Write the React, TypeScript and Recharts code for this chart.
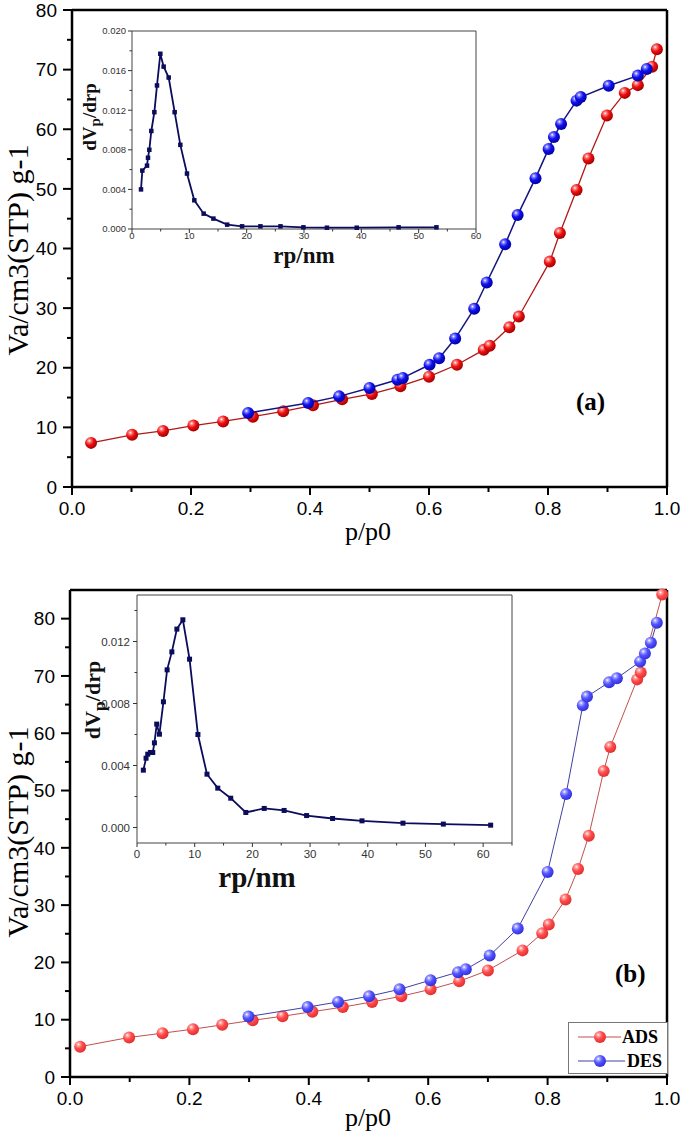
import React from "react"
import { ScatterChart, Scatter, XAxis, YAxis, ReferenceLine, Label, Legend } from "recharts"

// panel (a): isotherm
const pA_ads = [0.032, 0.101, 0.153, 0.204, 0.254, 0.304, 0.355, 0.405, 0.454, 0.504, 0.552, 0.6, 0.647, 0.692, 0.702, 0.735, 0.751, 0.803, 0.82, 0.848, 0.868, 0.899, 0.929, 0.951, 0.975, 0.983]
const vA_ads = [7.4, 8.75, 9.4, 10.3, 11.0, 11.8, 12.7, 13.7, 14.7, 15.6, 16.9, 18.5, 20.5, 23.0, 23.7, 26.8, 28.6, 37.8, 42.6, 49.8, 55.1, 62.3, 66.1, 67.4, 70.5, 73.4]
const pA_des = [0.296, 0.397, 0.449, 0.5, 0.547, 0.556, 0.601, 0.617, 0.644, 0.676, 0.697, 0.728, 0.749, 0.779, 0.801, 0.81, 0.822, 0.848, 0.855, 0.902, 0.951, 0.966]
const vA_des = [12.4, 14.1, 15.2, 16.6, 18.0, 18.3, 20.5, 21.6, 24.9, 29.9, 34.3, 40.7, 45.6, 51.8, 56.7, 58.7, 60.9, 64.8, 65.4, 67.3, 69.0, 70.1]

// panel (a): pore size distribution inset
const rA = [1.57, 1.8, 2.62, 2.79, 3.02, 3.37, 3.9, 4.36, 4.94, 5.52, 6.4, 7.44, 8.43, 9.59, 10.87, 12.5, 14.2, 16.6, 19.2, 22.4, 25.9, 29.9, 34.0, 39.2, 46.5, 53.1]
const dA = [0.004, 0.0059, 0.0064, 0.0072, 0.008, 0.0099, 0.0118, 0.0145, 0.0177, 0.0164, 0.0153, 0.0118, 0.0085, 0.0056, 0.0029, 0.00155, 0.00105, 0.00044, 0.00027, 0.00027, 0.00027, 0.00017, 0.00013, 0.00013, 0.00017, 0.00017]

// panel (b): isotherm
const pB_ads = [0.017, 0.099, 0.155, 0.206, 0.255, 0.306, 0.356, 0.406, 0.457, 0.506, 0.555, 0.604, 0.652, 0.7, 0.758, 0.791, 0.802, 0.83, 0.851, 0.869, 0.894, 0.905, 0.95, 0.956, 0.992]
const vB_ads = [5.3, 6.9, 7.65, 8.35, 9.1, 9.9, 10.6, 11.4, 12.2, 13.1, 14.1, 15.3, 16.7, 18.6, 22.1, 25.1, 26.6, 31.0, 36.3, 42.1, 53.4, 57.6, 69.4, 70.6, 84.2]
const pB_des = [0.299, 0.398, 0.449, 0.501, 0.552, 0.604, 0.65, 0.663, 0.703, 0.75, 0.8, 0.831, 0.859, 0.866, 0.903, 0.916, 0.955, 0.963, 0.973, 0.983]
const vB_des = [10.55, 12.2, 13.1, 14.1, 15.3, 16.9, 18.3, 18.8, 21.2, 25.9, 35.8, 49.4, 64.9, 66.4, 68.9, 69.6, 72.5, 73.9, 75.8, 79.3]

// panel (b): pore size distribution inset
const rB = [1.1, 1.57, 1.86, 2.32, 2.73, 3.02, 3.42, 3.89, 4.58, 5.22, 6.04, 6.91, 7.95, 9.11, 10.56, 12.13, 14.0, 16.25, 18.86, 22.05, 25.5, 29.4, 33.9, 39.0, 46.1, 53.1, 61.3]
const dB = [0.0037, 0.00447, 0.00473, 0.00484, 0.00484, 0.00546, 0.00667, 0.00602, 0.00811, 0.01017, 0.01133, 0.0128, 0.0134, 0.01086, 0.006, 0.00344, 0.00254, 0.00189, 0.00097, 0.00123, 0.0011, 0.00077, 0.00058, 0.00043, 0.00028, 0.00022, 0.00015]

const seriesNames = ["ADS", "DES"]

// ticks
const xMajorMain = [0, 0.2, 0.4, 0.6, 0.8, 1.0]
const xLabelsMain = ["0.0", "0.2", "0.4", "0.6", "0.8", "1.0"]
const xTicksMain = [0, 0.1, 0.2, 0.3, 0.4, 0.5, 0.6, 0.7, 0.8, 0.9, 1.0]
const yMajorMain = [0, 10, 20, 30, 40, 50, 60, 70, 80]
const yLabelsMain = ["0", "10", "20", "30", "40", "50", "60", "70", "80"]
const yTicksMain = [0, 5, 10, 15, 20, 25, 30, 35, 40, 45, 50, 55, 60, 65, 70, 75, 80]

const xMajorInset = [0, 10, 20, 30, 40, 50, 60]
const xLabelsInset = ["0", "10", "20", "30", "40", "50", "60"]
const xTicksInsetA = [0, 5, 10, 15, 20, 25, 30, 35, 40, 45, 50, 55, 60]
const xTicksInsetB = [0, 5, 10, 15, 20, 25, 30, 35, 40, 45, 50, 55, 60, 65]
const yMajorInsetA = [0, 0.004, 0.008, 0.012, 0.016, 0.02]
const yLabelsInsetA = ["0.000", "0.004", "0.008", "0.012", "0.016", "0.020"]
const yTicksInsetA = [0, 0.002, 0.004, 0.006, 0.008, 0.01, 0.012, 0.014, 0.016, 0.018, 0.02]
const yMajorInsetB = [0, 0.004, 0.008, 0.012]
const yLabelsInsetB = ["0.000", "0.004", "0.008", "0.012"]
const yTicksInsetB = [0, 0.002, 0.004, 0.006, 0.008, 0.01, 0.012, 0.014]

const pts = (xs: number[], ys: number[]) => xs.map((x, i) => ({ x, y: ys[i] }))

const SANS = "'Liberation Sans', Arial, sans-serif"
const SERIF = "'Liberation Serif', 'Times New Roman', serif"

type TickCfg = {
  majors: number[]
  labels: string[]
  major: number
  minor: number
  gap: number
  size: number
  color: string
  width: number
}

const makeXTick = (c: TickCfg) => (props: any) => {
  const { x, y, payload } = props
  const i = c.majors.findIndex((m) => Math.abs(m - payload.value) < 1e-9)
  const len = i >= 0 ? c.major : c.minor
  return (
    <g>
      <line x1={x} y1={y} x2={x} y2={y + len} stroke={c.color} strokeWidth={c.width} />
      {i >= 0 && (
        <text x={x} y={y + c.gap} dy="0.71em" textAnchor="middle" fontSize={c.size} fontFamily={SANS} fill={c.color}>
          {c.labels[i]}
        </text>
      )}
    </g>
  )
}

const makeYTick = (c: TickCfg) => (props: any) => {
  const { x, y, payload } = props
  const i = c.majors.findIndex((m) => Math.abs(m - payload.value) < 1e-9)
  const len = i >= 0 ? c.major : c.minor
  return (
    <g>
      <line x1={x} y1={y} x2={x - len} y2={y} stroke={c.color} strokeWidth={c.width} />
      {i >= 0 && (
        <text x={x - c.gap} y={y} dy="0.355em" textAnchor="end" fontSize={c.size} fontFamily={SANS} fill={c.color}>
          {c.labels[i]}
        </text>
      )}
    </g>
  )
}

const ball = (grad: string, r: number) => (props: any) => (
  <circle cx={props.cx} cy={props.cy} r={r} fill={`url(#${grad})`} />
)

const square = (s: number, color: string) => (props: any) => (
  <rect x={props.cx - s / 2} y={props.cy - s / 2} width={s} height={s} fill={color} />
)

const Grad = ({ id, mid, main, edge }: { id: string; mid: string; main: string; edge: string }) => (
  <radialGradient id={id} cx="36%" cy="32%" r="70%">
    <stop offset="0%" stopColor="#ffffff" />
    <stop offset="18%" stopColor={mid} />
    <stop offset="50%" stopColor={main} />
    <stop offset="100%" stopColor={edge} />
  </radialGradient>
)

const mainX = makeXTick({ majors: xMajorMain, labels: xLabelsMain, major: 8, minor: 5, gap: 15, size: 19, color: "#000", width: 2 })
const mainY = makeYTick({ majors: yMajorMain, labels: yLabelsMain, major: 9, minor: 5, gap: 15, size: 19, color: "#000", width: 2 })
const insAX = makeXTick({ majors: xMajorInset, labels: xLabelsInset, major: 4, minor: 2.5, gap: 3, size: 9.5, color: "#333", width: 1 })
const insAY = makeYTick({ majors: yMajorInsetA, labels: yLabelsInsetA, major: 4, minor: 2.5, gap: 6, size: 9.5, color: "#333", width: 1 })
const insBX = makeXTick({ majors: xMajorInset, labels: xLabelsInset, major: 4, minor: 2.5, gap: 7, size: 11.5, color: "#333", width: 1 })
const insBY = makeYTick({ majors: yMajorInsetB, labels: yLabelsInsetB, major: 4, minor: 2.5, gap: 7, size: 11.5, color: "#333", width: 1 })

const yTitle = (y: number) => () => (
  <text x={28} y={y} transform={`rotate(-90 28 ${y})`} textAnchor="middle" fontFamily={SERIF} fontSize={30} fill="#000">
    Va/cm3(STP) g-1
  </text>
)

const xTitle = (y: number) => () => (
  <text x={368} y={y} textAnchor="middle" fontFamily={SERIF} fontSize={26} fill="#000">
    p/p0
  </text>
)

const dvLabel = (x: number, y: number, size: number) => () => (
  <text x={x} y={y} transform={`rotate(-90 ${x} ${y})`} textAnchor="middle" fontFamily={SERIF} fontWeight="bold" fontSize={size} fill="#111">
    <tspan>dV</tspan>
    <tspan dy={size * 0.22} fontSize={size * 0.8}>p</tspan>
    <tspan dy={-size * 0.22}>/drp</tspan>
  </text>
)

const rpLabel = (x: number, y: number, size: number) => () => (
  <text x={x} y={y} textAnchor="middle" fontFamily={SERIF} fontWeight="bold" fontSize={size} fill="#111">
    rp/nm
  </text>
)

const legendContent = () => (
  <div style={{ width: 100, height: 52, border: "1px solid #777", background: "#fff", boxSizing: "border-box" }}>
    <svg width={98} height={50}>
      <defs>
        <Grad id="lgRed" mid="#ffa0a0" main="#ff4a4a" edge="#e03030" />
        <Grad id="lgBlue" mid="#a8a8ff" main="#5252ff" edge="#3030d8" />
      </defs>
      <line x1={9} y1={14} x2={52} y2={14} stroke="#c05050" strokeWidth={1} />
      <circle cx={31} cy={14} r={6} fill="url(#lgRed)" />
      <text x={53} y={20} fontFamily={SERIF} fontWeight="bold" fontSize={18}>{seriesNames[0]}</text>
      <line x1={9} y1={38} x2={56} y2={38} stroke="#4040a0" strokeWidth={1} />
      <circle cx={31} cy={38} r={6} fill="url(#lgBlue)" />
      <text x={58} y={44} fontFamily={SERIF} fontWeight="bold" fontSize={18}>{seriesNames[1]}</text>
    </svg>
  </div>
)

const frame = { stroke: "#000", strokeWidth: 2.5 }
const thin = { stroke: "#444", strokeWidth: 1 }

export default function App() {
  return (
    <div style={{ position: "absolute", left: 0, top: 0, width: 685, height: 1139, background: "#fff" }}>
      {/* (a) main */}
      <div style={{ position: "absolute", left: 0, top: 0 }}>
        <ScatterChart width={685} height={560} margin={{ top: 10, right: 18, bottom: 0, left: 0 }}>
          <defs>
            <Grad id="aRed" mid="#ff8080" main="#ee1010" edge="#a00000" />
            <Grad id="aBlue" mid="#8080ff" main="#1010ee" edge="#0000a0" />
          </defs>
          <XAxis dataKey="x" type="number" domain={[0, 1]} ticks={xTicksMain} interval={0} tickSize={0} tickMargin={0} tickLine={false} tick={mainX} axisLine={frame} height={73}>
            <Label content={xTitle(540)} />
          </XAxis>
          <YAxis dataKey="y" type="number" domain={[0, 80]} ticks={yTicksMain} interval={0} tickSize={0} tickMargin={0} tickLine={false} tick={mainY} axisLine={frame} width={72}>
            <Label content={yTitle(250)} />
          </YAxis>
          <ReferenceLine y={80} {...frame} />
          <ReferenceLine x={1} {...frame} />
          <Scatter name={seriesNames[0]} data={pts(pA_ads, vA_ads)} line={{ stroke: "#b01818", strokeWidth: 1.3 }} lineType="joint" shape={ball("aRed", 6)} isAnimationActive={false} />
          <Scatter name={seriesNames[1]} data={pts(pA_des, vA_des)} line={{ stroke: "#141480", strokeWidth: 1.5 }} lineType="joint" shape={ball("aBlue", 6)} isAnimationActive={false} />
        </ScatterChart>
      </div>

      {/* (a) inset */}
      <div style={{ position: "absolute", left: 80, top: 20 }}>
        <ScatterChart width={410} height={255} margin={{ top: 11, right: 14, bottom: 0, left: 0 }}>
          <XAxis dataKey="x" type="number" domain={[0, 60]} ticks={xTicksInsetA} interval={0} tickSize={0} tickMargin={0} tickLine={false} tick={insAX} axisLine={thin} height={46}>
            <Label content={rpLabel(224, 243, 23)} />
          </XAxis>
          <YAxis dataKey="y" type="number" domain={[0, 0.02]} ticks={yTicksInsetA} interval={0} tickSize={0} tickMargin={0} tickLine={false} tick={insAY} axisLine={thin} width={52}>
            <Label content={dvLabel(16, 97, 19)} />
          </YAxis>
          <ReferenceLine y={0.02} {...thin} />
          <ReferenceLine x={60} {...thin} />
          <Scatter data={pts(rA, dA)} line={{ stroke: "#0c0c5c", strokeWidth: 1.8 }} lineType="joint" shape={square(4.5, "#0c0c5c")} isAnimationActive={false} />
        </ScatterChart>
      </div>

      <div style={{ position: "absolute", left: 576, top: 388, fontFamily: SERIF, fontWeight: "bold", fontSize: 25, lineHeight: "28px" }}>(a)</div>

      {/* (b) main */}
      <div style={{ position: "absolute", left: 0, top: 580 }}>
        <ScatterChart width={685} height={559} margin={{ top: 10, right: 18, bottom: 0, left: 0 }}>
          <defs>
            <Grad id="bRed" mid="#ffa0a0" main="#ff4a4a" edge="#e03030" />
            <Grad id="bBlue" mid="#a8a8ff" main="#5252ff" edge="#3030d8" />
          </defs>
          <XAxis dataKey="x" type="number" domain={[0, 1]} ticks={xTicksMain} interval={0} tickSize={0} tickMargin={0} tickLine={false} tick={mainX} axisLine={frame} height={62}>
            <Label content={xTitle(546)} />
          </XAxis>
          <YAxis dataKey="y" type="number" domain={[0, 85]} ticks={yTicksMain} interval={0} tickSize={0} tickMargin={0} tickLine={false} tick={mainY} axisLine={frame} width={70}>
            <Label content={yTitle(252)} />
          </YAxis>
          <ReferenceLine y={85} {...frame} />
          <ReferenceLine x={1} {...frame} />
          <Legend layout="horizontal" verticalAlign="middle" content={legendContent} wrapperStyle={{ position: "absolute", left: 568, top: 442, width: 100, height: 52 }} />
          <Scatter name={seriesNames[0]} data={pts(pB_ads, vB_ads)} line={{ stroke: "#c05050", strokeWidth: 1 }} lineType="joint" shape={ball("bRed", 6)} isAnimationActive={false} />
          <Scatter name={seriesNames[1]} data={pts(pB_des, vB_des)} line={{ stroke: "#4040a0", strokeWidth: 1 }} lineType="joint" shape={ball("bBlue", 6)} isAnimationActive={false} />
        </ScatterChart>
      </div>

      {/* (b) inset */}
      <div style={{ position: "absolute", left: 80, top: 585 }}>
        <ScatterChart width={445} height={320} margin={{ top: 10, right: 13, bottom: 0, left: 0 }}>
          <XAxis dataKey="x" type="number" domain={[0, 65]} ticks={xTicksInsetB} interval={0} tickSize={0} tickMargin={0} tickLine={false} tick={insBX} axisLine={thin} height={62}>
            <Label content={rpLabel(177, 302, 29)} />
          </XAxis>
          <YAxis dataKey="y" type="number" domain={[-0.001, 0.015]} ticks={yTicksInsetB} interval={0} tickSize={0} tickMargin={0} tickLine={false} tick={insBY} axisLine={thin} width={57}>
            <Label content={dvLabel(20, 115, 22)} />
          </YAxis>
          <ReferenceLine y={0.015} {...thin} />
          <ReferenceLine x={65} {...thin} />
          <Scatter data={pts(rB, dB)} line={{ stroke: "#0c0c5c", strokeWidth: 1.8 }} lineType="joint" shape={square(5, "#0c0c5c")} isAnimationActive={false} />
        </ScatterChart>
      </div>

      <div style={{ position: "absolute", left: 615, top: 960, fontFamily: SERIF, fontWeight: "bold", fontSize: 25, lineHeight: "28px" }}>(b)</div>
    </div>
  )
}
